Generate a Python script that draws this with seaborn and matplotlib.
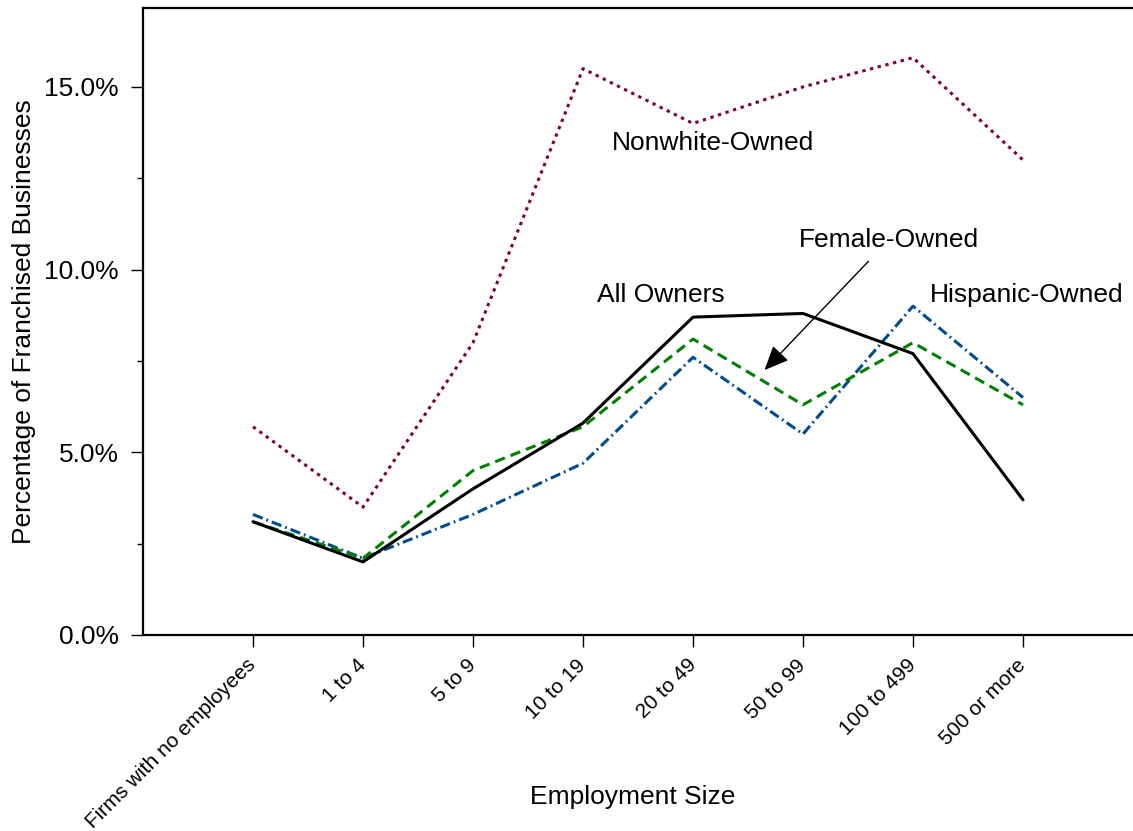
from matplotlib import pyplot as plt
from matplotlib.ticker import MultipleLocator, PercentFormatter
import pandas as pd
import seaborn as sns

# employment size classes
sizes = ["Firms with no employees", "1 to 4", "5 to 9", "10 to 19",
         "20 to 49", "50 to 99", "100 to 499", "500 or more"]

# percentage of franchised businesses
all_owners = [3.1, 2.0, 4.0, 5.8, 8.7, 8.8, 7.7, 3.7]
female_owned = [3.1, 2.1, 4.5, 5.7, 8.1, 6.3, 8.0, 6.3]
hispanic_owned = [3.3, 2.1, 3.3, 4.7, 7.6, 5.5, 9.0, 6.5]
nonwhite_owned = [5.7, 3.5, 8.0, 15.5, 14.0, 15.0, 15.8, 13.0]

df = pd.DataFrame({
    "size": sizes,
    "All Owners": all_owners,
    "Female-Owned": female_owned,
    "Hispanic-Owned": hispanic_owned,
    "Nonwhite-Owned": nonwhite_owned,
})

sns.set_style("ticks")
plt.rcParams['font.family'] = ['Liberation Sans', 'DejaVu Sans']
plt.rcParams['text.color'] = 'black'
plt.rcParams['axes.labelcolor'] = 'black'
plt.rcParams['xtick.color'] = 'black'
plt.rcParams['ytick.color'] = 'black'

fig = plt.figure(figsize=(11.33, 8.31), dpi=100)
ax = fig.add_axes([143 / 1133, 196 / 831, 990 / 1133, 627 / 831])

lw = 2.2
sns.lineplot(data=df, x="size", y="Nonwhite-Owned", ax=ax, color="#7c0046",
             linewidth=lw, sort=False)
ax.lines[-1].set_dashes((1.1, 1.5))
sns.lineplot(data=df, x="size", y="Hispanic-Owned", ax=ax, color="#004c8c",
             linewidth=lw, sort=False)
ax.lines[-1].set_dashes((3.4, 1.3, 0.6, 1.3))
sns.lineplot(data=df, x="size", y="Female-Owned", ax=ax, color="#008000",
             linewidth=lw, sort=False)
ax.lines[-1].set_dashes((3.4, 2.0))
sns.lineplot(data=df, x="size", y="All Owners", ax=ax, color="black",
             linewidth=lw, sort=False)

# series labels
fs = 19
ax.text(4.18, 13.47, "Nonwhite-Owned", fontsize=fs, ha="center", va="center")
ax.text(3.71, 9.31, "All Owners", fontsize=fs, ha="center", va="center")
ax.text(7.03, 9.31, "Hispanic-Owned", fontsize=fs, ha="center", va="center")
ax.annotate("Female-Owned", xy=(4.65, 7.25), xytext=(5.78, 10.81),
            fontsize=fs, ha="center", va="center",
            arrowprops=dict(arrowstyle="-|>,head_length=0.5,head_width=0.22",
                            mutation_scale=30, color="black", lw=1,
                            shrinkA=6, shrinkB=0))

ax.set_xlim(-1, 8)
ax.set_ylim(0, 17.16)
ax.yaxis.set_major_locator(MultipleLocator(5))
ax.yaxis.set_minor_locator(MultipleLocator(2.5))
ax.yaxis.set_major_formatter(PercentFormatter(decimals=1))

ax.set_xlabel("Employment Size", fontsize=fs, va="center")
ax.xaxis.set_label_coords(0.495, -0.258)
ax.set_ylabel("Percentage of Franchised Businesses", fontsize=fs, labelpad=6)

ax.tick_params(axis="y", which="major", length=8.6, width=1, labelsize=fs, pad=9)
ax.tick_params(axis="y", which="minor", length=4.3, width=1)
ax.tick_params(axis="x", length=8.6, width=1, labelsize=15, pad=11)
for lab in ax.get_xticklabels():
    lab.set_rotation(45)
    lab.set_ha("right")
    lab.set_va("center")
    lab.set_rotation_mode("anchor")

for side in ["left", "bottom", "top"]:
    ax.spines[side].set_visible(True)
    ax.spines[side].set_linewidth(1.6)
    ax.spines[side].set_color("black")
ax.spines["right"].set_visible(False)

fig.savefig("out.png", dpi=100)
